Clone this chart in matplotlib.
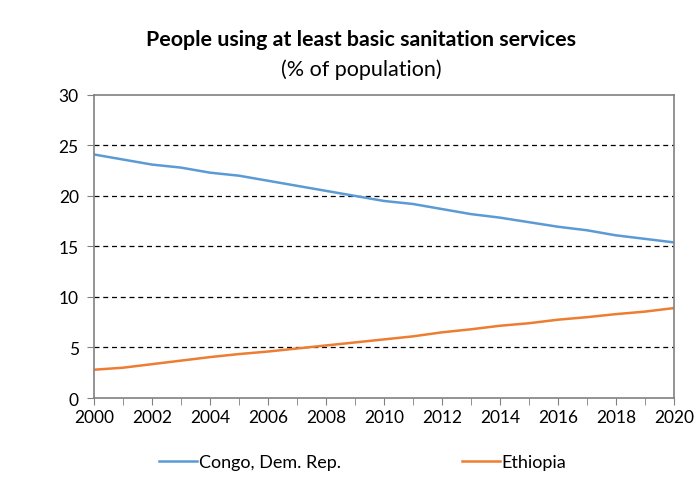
import matplotlib
matplotlib.use('Agg')
import matplotlib.pyplot as plt

years = list(range(2000, 2021))
congo = [24.1, 23.6, 23.1, 22.8, 22.3, 22.0, 21.5, 21.0, 20.5, 20.0, 19.5,
         19.2, 18.7, 18.2, 17.85, 17.4, 16.95, 16.6, 16.1, 15.75, 15.4]
ethiopia = [2.8, 3.0, 3.35, 3.7, 4.05, 4.35, 4.6, 4.9, 5.2, 5.5, 5.8,
            6.1, 6.5, 6.8, 7.15, 7.4, 7.75, 8.0, 8.3, 8.55, 8.9]
series_names = ['Congo, Dem. Rep.', 'Ethiopia']

plt.rcParams['font.family'] = ['Lato', 'DejaVu Sans']

fig = plt.figure(figsize=(6.99, 4.89), dpi=100)
ax = fig.add_axes([0.1345, 0.184, 0.8295, 0.620])

ax.plot(years, congo, color='#5B9BD5', lw=1.8, label=series_names[0])
ax.plot(years, ethiopia, color='#ED7D31', lw=1.8, label=series_names[1])

ax.set_xlim(2000, 2020)
ax.set_ylim(0, 30)
ax.set_xticks(range(2000, 2021, 2))
ax.set_xticks(years, minor=True)
ax.set_yticks(range(0, 31, 5))
for y in range(5, 30, 5):
    ax.axhline(y, color='black', lw=0.9, ls=(0, (4, 3)), zorder=0)

for s in ax.spines.values():
    s.set_color('#808080')
    s.set_linewidth(1.2)
ax.tick_params(axis='both', which='both', color='#808080', labelsize=12.5)
ax.tick_params(axis='x', which='major', length=5, pad=3)
ax.tick_params(axis='x', which='minor', length=5)
ax.tick_params(axis='y', length=5, pad=6)

fig.text(0.517, 0.918, 'People using at least basic sanitation services',
         ha='center', va='center', fontsize=15.4, fontweight='bold')
fig.text(0.517, 0.858, '(% of population)', ha='center', va='center', fontsize=15.5)

fig.legend(loc='center', bbox_to_anchor=(0.519, 0.053), ncol=2, frameon=False,
           fontsize=13, handlelength=2.1, handletextpad=0.1, columnspacing=6.7)

fig.savefig('out.png', dpi=100)
